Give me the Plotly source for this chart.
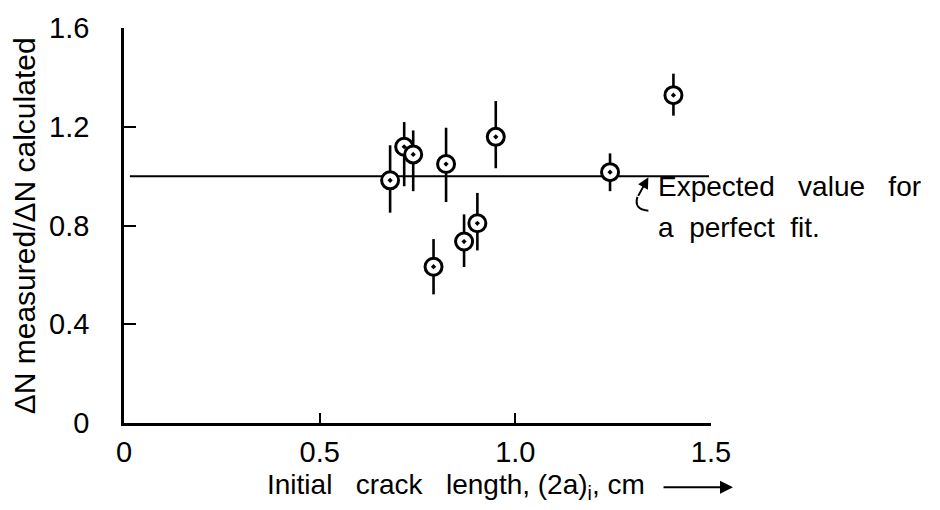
import plotly.graph_objects as go

# Initial crack length (2a)_i, cm, and ratio of measured to calculated cycle counts
crack_len = [0.680, 0.716, 0.739, 0.823, 0.950, 0.791, 0.869, 0.903, 1.242, 1.404]
ratio = [0.983, 1.119, 1.088, 1.049, 1.159, 0.633, 0.735, 0.809, 1.016, 1.328]
err_plus = [0.142, 0.100, 0.097, 0.147, 0.145, 0.112, 0.110, 0.123, 0.076, 0.087]
err_minus = [0.131, 0.160, 0.149, 0.154, 0.127, 0.112, 0.103, 0.110, 0.077, 0.083]

# Expected value for a perfect fit
expected_x = [0.015, 1.495]
expected_y = [1.0, 1.0]

x_ticks = [0, 0.5, 1.0, 1.5]
x_ticktext = ["0", "0.5", "1.0", "1.5"]
y_ticks = [0, 0.4, 0.8, 1.2, 1.6]
y_ticktext = ["0", "0.4", "0.8", "1.2", "1.6"]

FONT = "Liberation Sans"
INK = "black"

fig = go.Figure()

fig.add_trace(go.Scatter(
    x=expected_x, y=expected_y, mode="lines",
    line=dict(color=INK, width=2), hoverinfo="skip", showlegend=False,
))

fig.add_trace(go.Scatter(
    x=crack_len, y=ratio, mode="markers",
    marker=dict(symbol="circle-dot", size=17, color="white",
                line=dict(color=INK, width=3)),
    error_y=dict(type="data", symmetric=False, array=err_plus,
                 arrayminus=err_minus, color=INK, thickness=2.6, width=0),
    showlegend=False,
))

sp = "\u00a0"
annotations = [
    # x-axis title with trailing arrow
    dict(xref="paper", yref="paper", x=0.240, y=-0.16, xanchor="left", yanchor="middle",
         text=f"Initial{sp}{sp}{sp}crack{sp}{sp}{sp}length,{sp}(2a)<sub>i</sub>,{sp}cm",
         showarrow=False, font=dict(family=FONT, size=28, color=INK)),
    dict(xref="paper", yref="paper", x=1.0375, y=-0.1625, text="",
         showarrow=True, ax=-71, ay=0, arrowhead=2, arrowsize=1.3,
         arrowwidth=2, arrowcolor=INK),
    # y-axis title
    dict(xref="paper", yref="paper", x=-0.169, y=0.5, xanchor="center", yanchor="middle",
         text="\u0394N measured/\u0394N calculated", textangle=-90,
         showarrow=False, font=dict(family=FONT, size=30, color=INK)),
    # note on the reference line
    dict(xref="x", yref="y", x=1.36, y=0.956, xanchor="left", yanchor="middle",
         text=f"Expected{sp}{sp}{sp}value{sp}{sp}{sp}for",
         showarrow=False, font=dict(family=FONT, size=28, color=INK)),
    dict(xref="x", yref="y", x=1.36, y=0.792, xanchor="left", yanchor="middle",
         text=f"a{sp}{sp}perfect{sp}{sp}fit.",
         showarrow=False, font=dict(family=FONT, size=28, color=INK)),
    dict(xref="x", yref="y", x=1.340, y=0.995, text="",
         showarrow=True, ax=-11, ay=20, arrowhead=2, arrowsize=1.1,
         arrowwidth=2, arrowcolor=INK),
]

fig.update_layout(
    width=940, height=510,
    margin=dict(l=124, r=229, t=23, b=87),
    paper_bgcolor="white", plot_bgcolor="white",
    font=dict(family=FONT, color=INK),
    annotations=annotations,
    shapes=[dict(type="path", xref="x", yref="y",
                 path="M 1.340 0.860 Q 1.302 0.864 1.312 0.916",
                 line=dict(color=INK, width=2))],
    xaxis=dict(range=[0, 1.5], tickvals=x_ticks, ticktext=x_ticktext,
               showline=True, linecolor=INK, linewidth=2.5, mirror=False,
               ticks="inside", ticklen=10, tickwidth=2.2, tickcolor=INK,
               showgrid=False, zeroline=False, ticklabelstandoff=1,
               tickfont=dict(family=FONT, size=29, color=INK)),
    yaxis=dict(range=[0, 1.6], tickvals=y_ticks, ticktext=y_ticktext,
               showline=True, linecolor=INK, linewidth=2.5, mirror=False,
               ticks="inside", ticklen=12, tickwidth=2.2, tickcolor=INK,
               showgrid=False, zeroline=False, ticklabelstandoff=26,
               tickfont=dict(family=FONT, size=29, color=INK)),
)

fig.write_html("out.html")
